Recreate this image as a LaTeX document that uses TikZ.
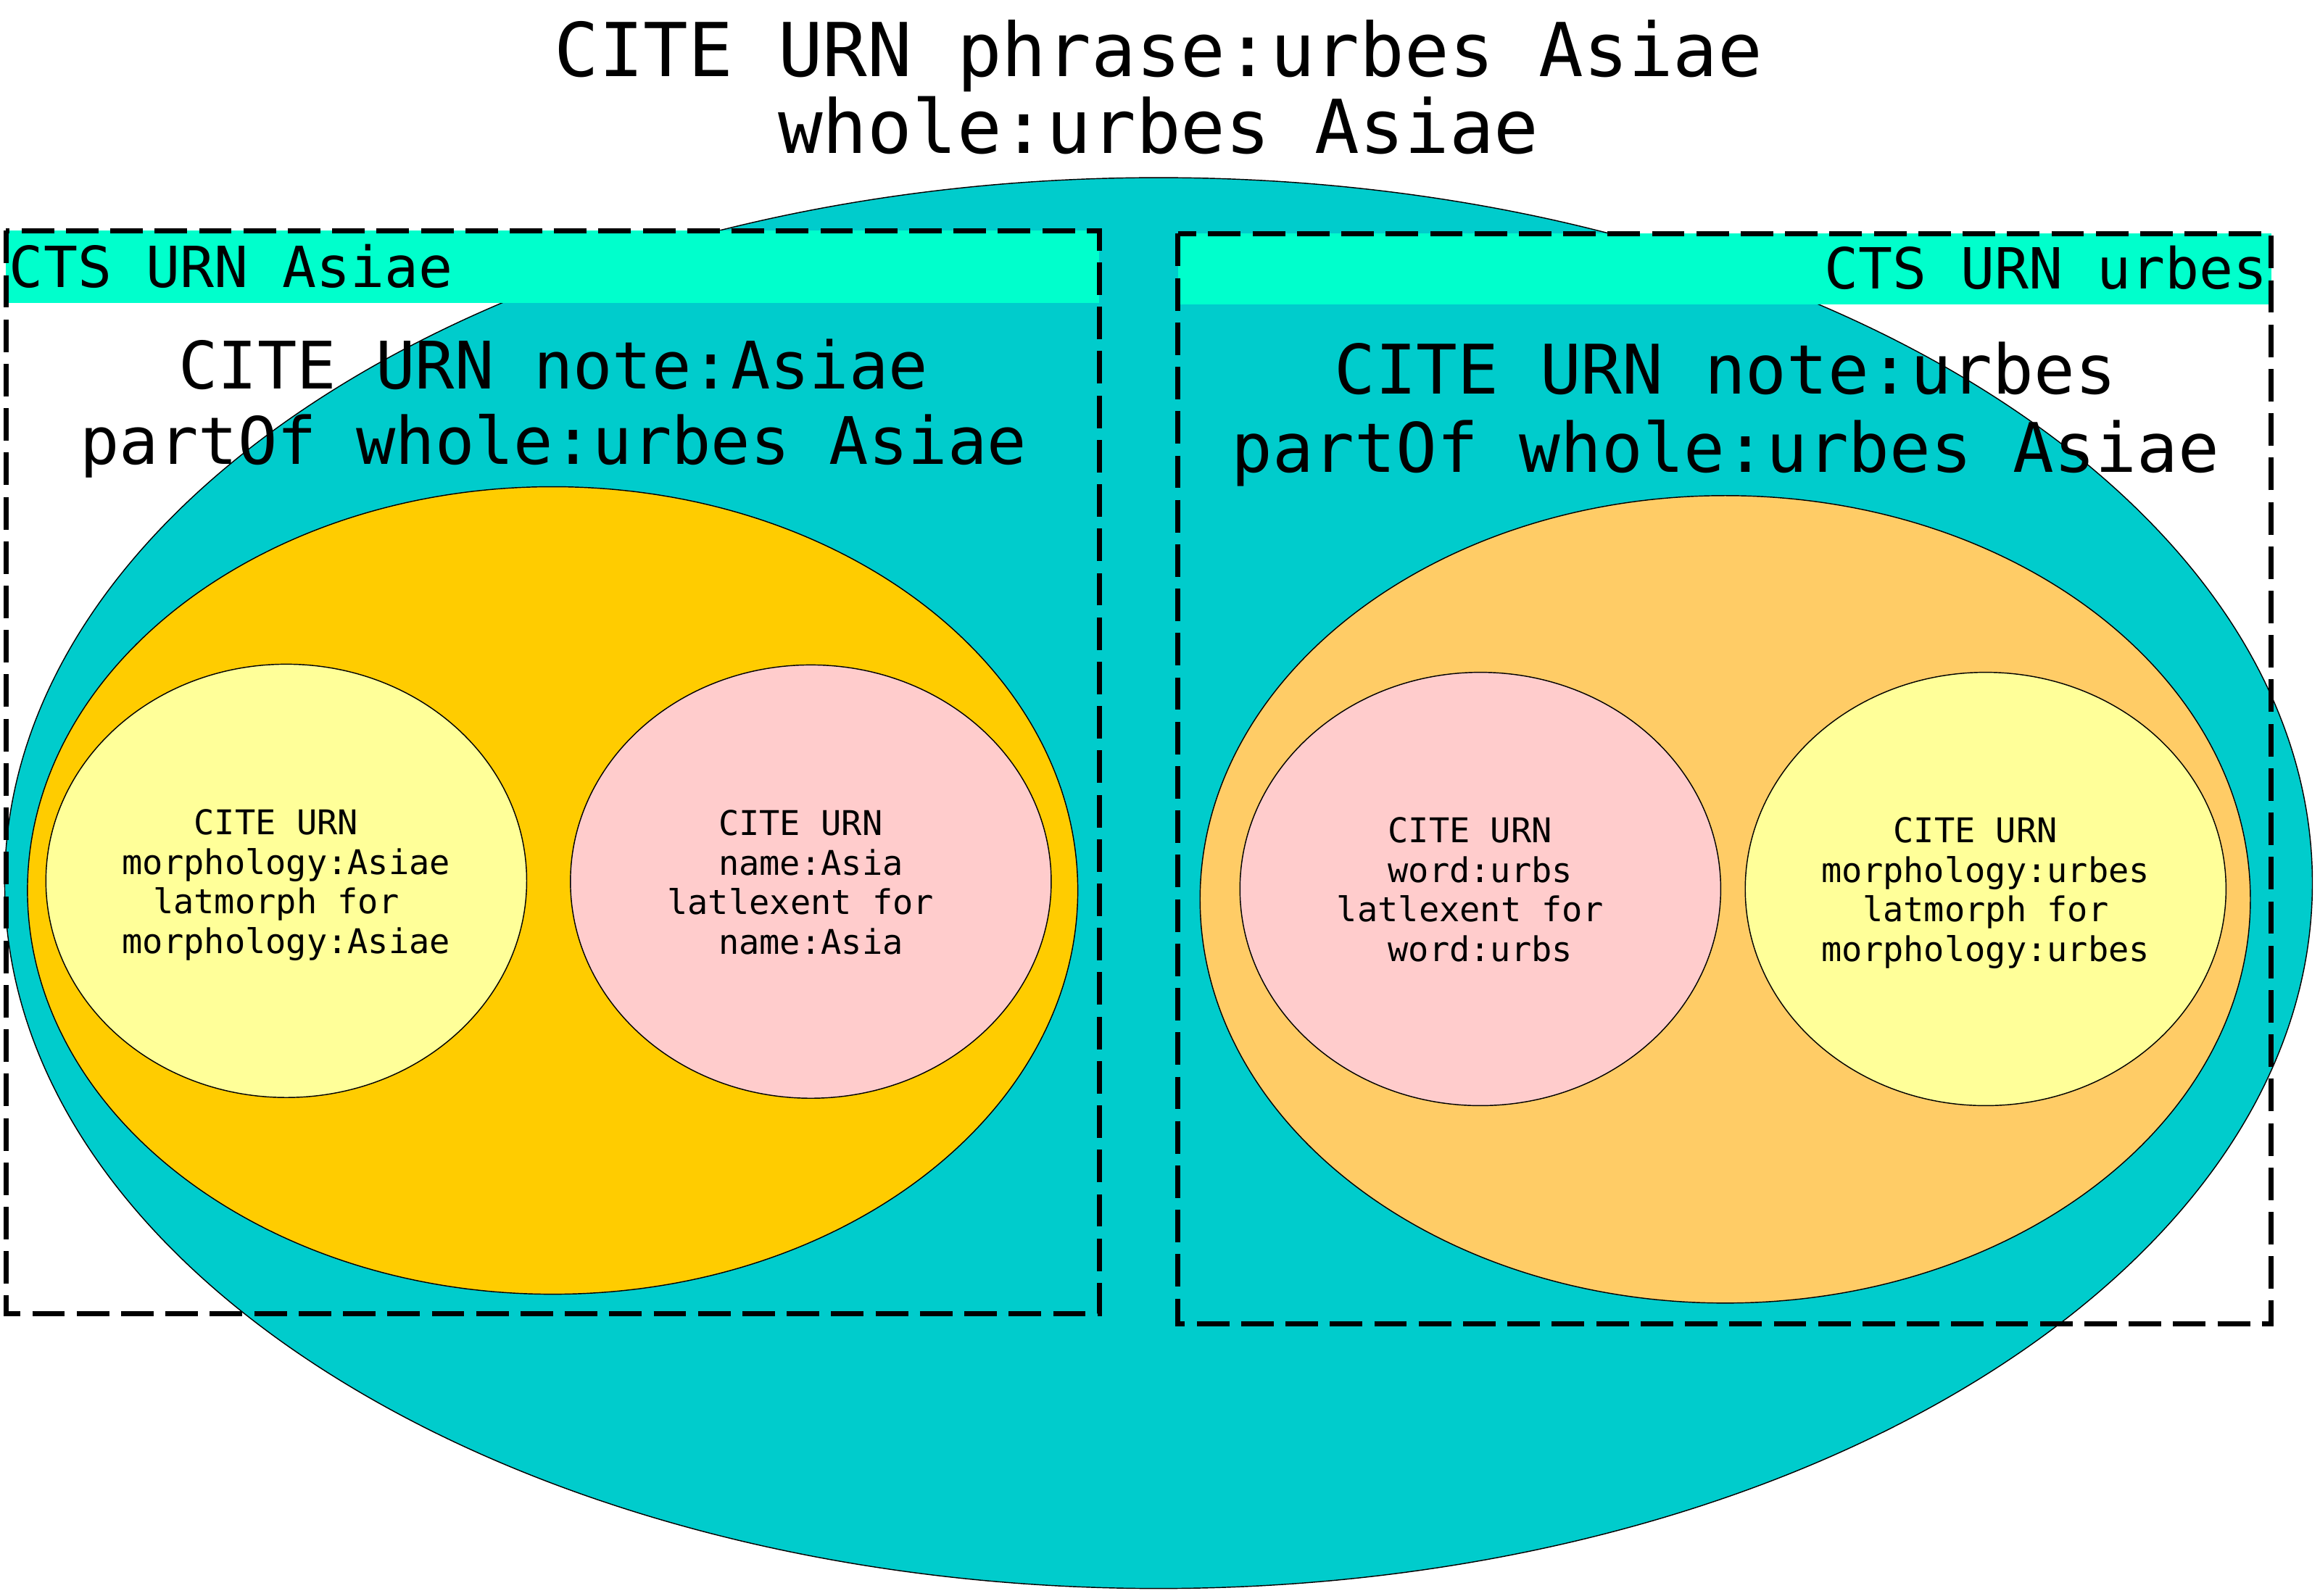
\documentclass[tikz,border=0pt]{standalone}
\usepackage{fontspec}
\newfontfamily\urnfont{DejaVu Sans Mono}
\usetikzlibrary{
  shapes.geometric          % ellipse nodes
}
\definecolor{phraseteal}{HTML}{00CCCC}
\definecolor{headercyan}{HTML}{00FFCC}
\definecolor{noteorange}{HTML}{FFCC00}
\definecolor{notepeach}{HTML}{FFCC66}
\definecolor{entryyellow}{HTML}{FFFF99}
\definecolor{entrypink}{HTML}{FFCCCC}
% trailing blank of the original labels
\newcommand{\urnpad}{\hphantom{0}}
% taller first line, drops the entry text a little
\newcommand{\urnlift}{\rule{0pt}{14.7pt}}
\tikzset{
  urn ellipse/.style={
    ellipse,
    draw=black,
    line width=0.4pt,
    inner sep=0pt,
    align=center
  },
  phrase ellipse/.style={
    urn ellipse,
    fill=phraseteal,
    minimum width=31.2cm,
    minimum height=19.08cm
  },
  note ellipse/.style={
    urn ellipse,
    minimum width=14.2cm,
    minimum height=10.92cm
  },
  entry ellipse/.style={
    urn ellipse,
    minimum width=6.5cm,
    minimum height=5.86cm,
    font=\urnfont\fontsize{13.1}{15.2}\selectfont
  },
  header band/.style={
    fill=headercyan
  },
  passage box/.style={
    draw=black,
    line width=1.9pt,
    dash pattern=on 0.44cm off 0.16cm
  },
  header label/.style={
    inner sep=0pt,
    font=\urnfont\fontsize{21.8}{24}\selectfont
  }
}

\begin{document}
\begin{tikzpicture}[x=0.02cm, y=-0.02cm]
  \useasboundingbox (0,0) rectangle (1568,1078.5);

  % 1. the whole phrase
  \node[phrase ellipse] (phrase) at (783,597) {};
  \node[align=center, inner sep=0pt,
        font=\urnfont\fontsize{28.6}{29.6}\selectfont]
    (phraselabel) at (783,59) {CITE URN phrase:urbes Asiae\\whole:urbes Asiae};

  % 2. header bands of the two passages
  \fill[header band] (4,156) rectangle (743,205);
  \fill[header band] (796,158) rectangle (1535,206);
  \node[header label, anchor=base west] (ctsAsiae) at (6,194.5) {CTS URN Asiae};
  \node[header label, anchor=base east] (ctsurbes) at (1533,195.5) {CTS URN urbes};

  % 3. the two notes
  \node[note ellipse, fill=noteorange] (noteAsiae) at (373.5,602) {};
  \node[note ellipse, fill=notepeach] (noteurbes) at (1166,608) {};
  \node[align=center, inner sep=0pt,
        font=\urnfont\fontsize{25.2}{29}\selectfont]
    (noteAsiaelabel) at (374,276) {CITE URN note:Asiae\\partOf whole:urbes Asiae};
  \node[align=center, inner sep=0pt,
        font=\urnfont\fontsize{26.3}{30.2}\selectfont]
    (noteurbeslabel) at (1166,280) {CITE URN note:urbes\\partOf whole:urbes Asiae};

  % 4. morphology and lexicon entries
  \node[entry ellipse, fill=entryyellow] (morphAsiae) at (193.5,595.5)
    {\urnlift CITE URN\urnpad\\morphology:Asiae\\latmorph for\urnpad\\morphology:Asiae\strut};
  \node[entry ellipse, fill=entrypink] (nameAsia) at (548,596)
    {\urnlift CITE URN\urnpad\\name:Asia\\latlexent for\urnpad\\name:Asia\strut};
  \node[entry ellipse, fill=entrypink] (wordurbs) at (1000.5,601)
    {\urnlift CITE URN\urnpad\\word:urbs\\latlexent for\urnpad\\word:urbs\strut};
  \node[entry ellipse, fill=entryyellow] (morphurbes) at (1342,601)
    {\urnlift CITE URN\urnpad\\morphology:urbes\\latmorph for\\morphology:urbes\strut};

  % 5. dashed passage frames on top
  \draw[passage box] (4,156) rectangle (743,888);
  \draw[passage box] (796,158) rectangle (1535,895);

\end{tikzpicture}
\end{document}
